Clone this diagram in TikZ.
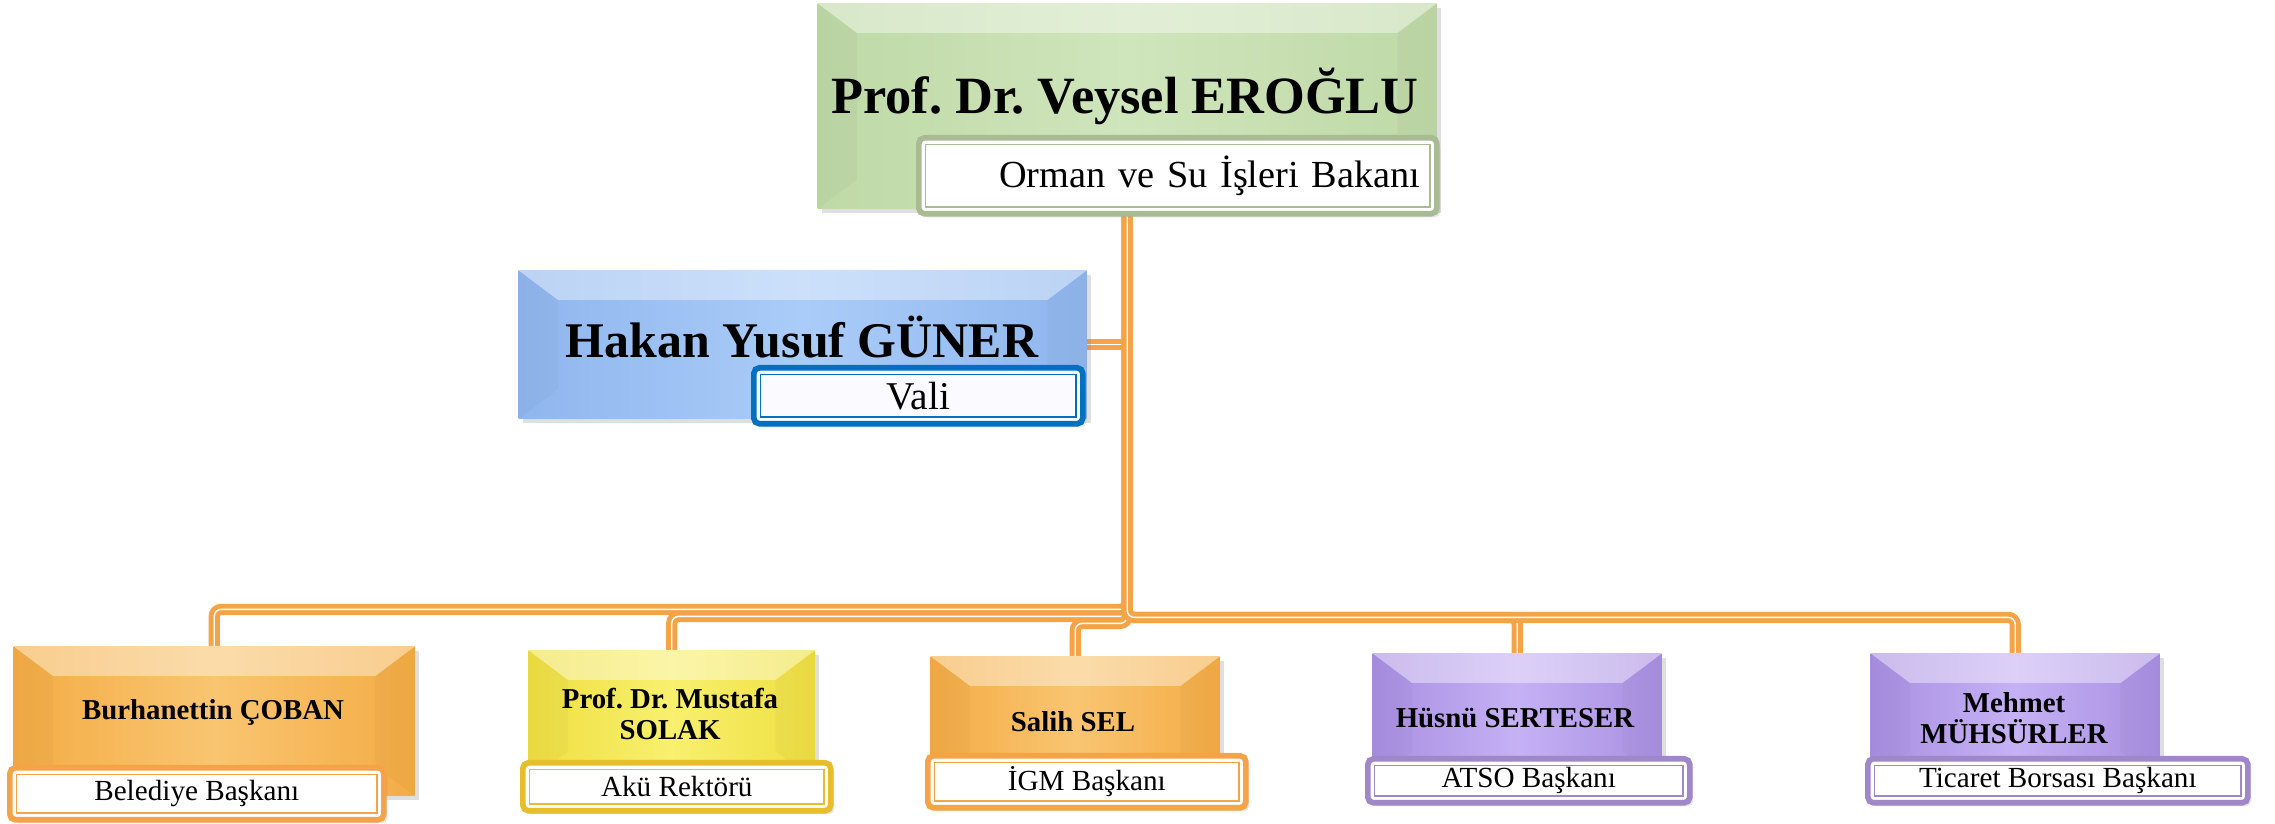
\documentclass[tikz,border=0pt]{standalone}
\usepackage{fontspec}
\setmainfont{Liberation Serif}
\usetikzlibrary{positioning,shadows,backgrounds}
\frenchspacing

\definecolor{linkorange}{HTML}{F4A447}
\definecolor{grL}{HTML}{BFD9A6}\definecolor{grM}{HTML}{CFE5BC}\definecolor{grLine}{HTML}{A9BB92}
\definecolor{blL}{HTML}{8FB6EE}\definecolor{blM}{HTML}{AACCF8}\definecolor{blLine}{HTML}{0070C0}
\definecolor{orL}{HTML}{F4AC45}\definecolor{orM}{HTML}{F9C571}\definecolor{orLine}{HTML}{F4A447}
\definecolor{yeL}{HTML}{EFDF42}\definecolor{yeM}{HTML}{F8F06E}\definecolor{yeLine}{HTML}{E7BD2D}
\definecolor{puL}{HTML}{A98FE2}\definecolor{puM}{HTML}{C5B1F4}\definecolor{puLine}{HTML}{9F87C8}

\tikzset{
  box/.style={anchor=north west, inner sep=0pt,
    drop shadow={shadow xshift=1.2pt,shadow yshift=-1.2pt,opacity=0.25}},
  greenbox/.style={box, left color=grL, right color=grL, middle color=grM},
  bluebox/.style={box, left color=blL, right color=blL, middle color=blM},
  orangebox/.style={box, left color=orL, right color=orL, middle color=orM},
  yellowbox/.style={box, left color=yeL, right color=yeL, middle color=yeM},
  purplebox/.style={box, left color=puL, right color=puL, middle color=puM},
  role/.style={anchor=north west, draw=#1, line width=1.6pt, rounded corners=1.6pt,
    fill=white, inner sep=0pt, font=\fontsize{8.3}{9}\selectfont,
    drop shadow={shadow xshift=1pt,shadow yshift=-1pt,opacity=0.2}},
  chiefname/.style={font=\fontsize{14.9}{16}\selectfont\bfseries},
  kidname/.style={font=\fontsize{8.2}{8.9}\selectfont\bfseries, align=center},
  link/.style={draw=linkorange, line width=1.4pt, double=white, double distance=0.4pt,
    rounded corners=2pt}
}

\begin{document}
\begin{tikzpicture}
\useasboundingbox (0,0) rectangle (22.75,-8.24);
% boxes
\node[greenbox, minimum width=6.19cm, minimum height=2.05cm] (eroglu) at (8.17,-0.03) {};
\node[bluebox, minimum width=5.68cm, minimum height=1.48cm] (guner) at (5.18,-2.70) {};
\node[orangebox, minimum width=4.01cm, minimum height=1.49cm] (coban) at (0.13,-6.46) {};
\node[yellowbox, minimum width=2.86cm, minimum height=1.30cm] (solak) at (5.28,-6.50) {};
\node[orangebox, minimum width=2.89cm, minimum height=1.24cm] (sel) at (9.30,-6.56) {};
\node[purplebox, minimum width=2.89cm, minimum height=1.27cm] (serteser) at (13.72,-6.53) {};
\node[purplebox, minimum width=2.89cm, minimum height=1.27cm] (muhsurler) at (18.70,-6.53) {};
% bevel
\foreach \b in {eroglu,guner,coban,solak,sel,serteser,muhsurler}{
  \fill[white,opacity=0.4] (\b.north west) -- (\b.north east) -- ([shift={(-0.4,-0.3)}]\b.north east) -- ([shift={(0.4,-0.3)}]\b.north west) -- cycle;
  \fill[black,opacity=0.025] (\b.north west) -- ([shift={(0.4,-0.3)}]\b.north west) -- ([shift={(0.4,0.3)}]\b.south west) -- (\b.south west) -- cycle;
  \fill[black,opacity=0.025] (\b.north east) -- ([shift={(-0.4,-0.3)}]\b.north east) -- ([shift={(-0.4,0.3)}]\b.south east) -- (\b.south east) -- cycle;
}
% names
\node[chiefname] (erogluN) at (11.25,-0.96) {Prof. Dr. Veysel EROĞLU};
\node[chiefname, font=\fontsize{14.2}{16}\selectfont\bfseries] (gunerN) at (8.02,-3.37) {Hakan Yusuf GÜNER};
\node[kidname] (cobanN) at (2.13,-7.12) {Burhanettin ÇOBAN};
\node[kidname] (solakN) at (6.70,-7.14) {Prof. Dr. Mustafa\\SOLAK};
\node[kidname] (selN) at (10.73,-7.22) {Salih SEL};
\node[kidname] (serteserN) at (15.15,-7.18) {Hüsnü SERTESER};
\node[kidname] (muhsurlerN) at (20.14,-7.18) {Mehmet\\MÜHSÜRLER};
% roles
\node[role=grLine, minimum width=5.18cm, minimum height=0.76cm, text width=4.85cm, align=right,
  font=\fontsize{10.9}{12}\selectfont] (erogluR) at (9.16,-1.35) {Orman ve Su İşleri Bakanı};
\node[role=blLine, fill=blue!2, minimum width=3.29cm, minimum height=0.56cm,
  font=\fontsize{11.2}{12}\selectfont] (gunerR) at (7.51,-3.65) {Vali};
\node[role=orLine, minimum width=3.74cm, minimum height=0.52cm] (cobanR) at (0.07,-7.65) {Belediye Başkanı};
\node[role=yeLine, minimum width=3.08cm, minimum height=0.48cm] (solakR) at (5.20,-7.60) {Akü Rektörü};
\node[role=orLine, minimum width=3.18cm, minimum height=0.52cm] (selR) at (9.25,-7.53) {İGM Başkanı};
\node[role=puLine, minimum width=3.22cm, minimum height=0.44cm] (serteserR) at (13.65,-7.56) {ATSO Başkanı};
\node[role=puLine, minimum width=3.80cm, minimum height=0.44cm] (muhsurlerR) at (18.65,-7.56) {Ticaret Borsası Başkanı};
\foreach \r/\c in {erogluR/grLine,gunerR/blLine,cobanR/orLine,solakR/yeLine,selR/orLine,serteserR/puLine,muhsurlerR/puLine}
  \draw[\c, line width=0.5pt] ([shift={(2.7pt,-2.7pt)}]\r.north west) rectangle ([shift={(-2.7pt,2.7pt)}]\r.south east);
% connectors
\begin{scope}[on background layer]
\draw[link] (guner.east) -- (guner.east -| eroglu.south);
\foreach \k/\d in {coban/4.00,solak/4.07,sel/4.14,serteser/4.08,muhsurler/4.08}
  \draw[link] (eroglu.south) -- ++(0,-\d) -| (\k.north);
\end{scope}
\end{tikzpicture}
\end{document}
